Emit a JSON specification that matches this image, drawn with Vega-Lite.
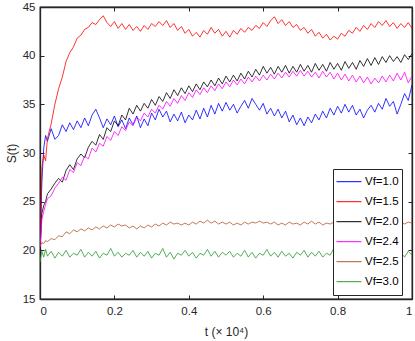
{
  "$schema": "https://vega.github.io/schema/vega-lite/v6.json",
  "width": 372,
  "height": 292,
  "autosize": {"type": "none"},
  "padding": {"left": 40, "top": 7, "right": 3, "bottom": 42},
  "background": "white",
  "config": {
    "view": {"stroke": "#262626", "strokeWidth": 1.3},
    "font": "Liberation Sans",
    "axis": {
      "grid": false,
      "domainColor": "#262626",
      "domainWidth": 1.3,
      "tickColor": "#262626",
      "tickWidth": 1,
      "labelColor": "#262626",
      "titleColor": "#262626",
      "labelFont": "Liberation Sans",
      "titleFont": "Liberation Sans",
      "labelFontSize": 11.5,
      "titleFontSize": 12,
      "titleFontWeight": "normal",
      "tickSize": -4,
      "format": "~g"
    }
  },
  "data": {"values": [
    {"t":0,"v":"1.0","s":20.0},{"t":0.005,"v":"1.0","s":27.0},{"t":0.01,"v":"1.0","s":30.5},{"t":0.015,"v":"1.0","s":31.8},{"t":0.02,"v":"1.0","s":31.2},
    {"t":0.03,"v":"1.0","s":32.5},{"t":0.04,"v":"1.0","s":31.4},{"t":0.05,"v":"1.0","s":31.8},{"t":0.06,"v":"1.0","s":32.9},{"t":0.07,"v":"1.0","s":32.2},{"t":0.08,"v":"1.0","s":33.1},{"t":0.09,"v":"1.0","s":32.4},{"t":0.10,"v":"1.0","s":33.3},{"t":0.11,"v":"1.0","s":32.6},{"t":0.12,"v":"1.0","s":33.6},
    {"t":0.13,"v":"1.0","s":32.8},{"t":0.14,"v":"1.0","s":33.9},{"t":0.15,"v":"1.0","s":34.5},{"t":0.16,"v":"1.0","s":33.6},{"t":0.17,"v":"1.0","s":32.6},{"t":0.18,"v":"1.0","s":33.5},{"t":0.19,"v":"1.0","s":32.9},{"t":0.20,"v":"1.0","s":33.8},{"t":0.21,"v":"1.0","s":32.7},{"t":0.22,"v":"1.0","s":33.4},
    {"t":0.23,"v":"1.0","s":32.5},{"t":0.24,"v":"1.0","s":33.6},{"t":0.25,"v":"1.0","s":32.9},{"t":0.26,"v":"1.0","s":33.8},{"t":0.27,"v":"1.0","s":32.6},{"t":0.28,"v":"1.0","s":33.5},{"t":0.29,"v":"1.0","s":32.8},{"t":0.30,"v":"1.0","s":34.1},{"t":0.31,"v":"1.0","s":33.4},{"t":0.32,"v":"1.0","s":34.5},
    {"t":0.33,"v":"1.0","s":33.7},{"t":0.34,"v":"1.0","s":34.3},{"t":0.35,"v":"1.0","s":33.2},{"t":0.36,"v":"1.0","s":34.0},{"t":0.37,"v":"1.0","s":33.3},{"t":0.38,"v":"1.0","s":34.2},{"t":0.39,"v":"1.0","s":33.1},{"t":0.40,"v":"1.0","s":33.9},{"t":0.41,"v":"1.0","s":33.4},{"t":0.42,"v":"1.0","s":34.4},
    {"t":0.43,"v":"1.0","s":33.5},{"t":0.44,"v":"1.0","s":34.6},{"t":0.45,"v":"1.0","s":33.7},{"t":0.46,"v":"1.0","s":34.9},{"t":0.47,"v":"1.0","s":34.0},{"t":0.48,"v":"1.0","s":35.1},{"t":0.49,"v":"1.0","s":34.3},{"t":0.50,"v":"1.0","s":35.2},{"t":0.51,"v":"1.0","s":34.4},{"t":0.52,"v":"1.0","s":35.0},
    {"t":0.53,"v":"1.0","s":34.1},{"t":0.54,"v":"1.0","s":34.8},{"t":0.55,"v":"1.0","s":35.4},{"t":0.56,"v":"1.0","s":34.6},{"t":0.57,"v":"1.0","s":35.6},{"t":0.58,"v":"1.0","s":35.0},{"t":0.59,"v":"1.0","s":34.4},{"t":0.60,"v":"1.0","s":35.1},{"t":0.61,"v":"1.0","s":34.0},{"t":0.62,"v":"1.0","s":34.6},
    {"t":0.63,"v":"1.0","s":33.8},{"t":0.64,"v":"1.0","s":34.5},{"t":0.65,"v":"1.0","s":33.6},{"t":0.66,"v":"1.0","s":34.3},{"t":0.67,"v":"1.0","s":33.2},{"t":0.68,"v":"1.0","s":33.9},{"t":0.69,"v":"1.0","s":32.9},{"t":0.70,"v":"1.0","s":33.6},{"t":0.71,"v":"1.0","s":32.8},{"t":0.72,"v":"1.0","s":33.7},
    {"t":0.73,"v":"1.0","s":33.1},{"t":0.74,"v":"1.0","s":34.0},{"t":0.75,"v":"1.0","s":33.4},{"t":0.76,"v":"1.0","s":34.3},{"t":0.77,"v":"1.0","s":33.6},{"t":0.78,"v":"1.0","s":34.6},{"t":0.79,"v":"1.0","s":33.9},{"t":0.80,"v":"1.0","s":34.8},{"t":0.81,"v":"1.0","s":34.1},{"t":0.82,"v":"1.0","s":35.0},
    {"t":0.83,"v":"1.0","s":34.2},{"t":0.84,"v":"1.0","s":34.9},{"t":0.85,"v":"1.0","s":33.9},{"t":0.86,"v":"1.0","s":34.5},{"t":0.87,"v":"1.0","s":33.6},{"t":0.88,"v":"1.0","s":34.4},{"t":0.89,"v":"1.0","s":34.9},{"t":0.90,"v":"1.0","s":34.2},{"t":0.91,"v":"1.0","s":35.1},{"t":0.92,"v":"1.0","s":34.5},
    {"t":0.93,"v":"1.0","s":35.6},{"t":0.94,"v":"1.0","s":34.8},{"t":0.95,"v":"1.0","s":35.3},{"t":0.96,"v":"1.0","s":34.0},{"t":0.97,"v":"1.0","s":35.0},{"t":0.98,"v":"1.0","s":36.1},{"t":0.99,"v":"1.0","s":35.4},{"t":1.00,"v":"1.0","s":37.0},

    {"t":0,"v":"1.5","s":20.0},{"t":0.005,"v":"1.5","s":28.5},{"t":0.01,"v":"1.5","s":29.8},{"t":0.015,"v":"1.5","s":29.2},{"t":0.02,"v":"1.5","s":31.5},
    {"t":0.03,"v":"1.5","s":33.0},{"t":0.04,"v":"1.5","s":35.0},{"t":0.05,"v":"1.5","s":36.6},{"t":0.06,"v":"1.5","s":37.8},{"t":0.07,"v":"1.5","s":39.4},{"t":0.08,"v":"1.5","s":40.3},{"t":0.09,"v":"1.5","s":40.9},{"t":0.10,"v":"1.5","s":41.8},{"t":0.11,"v":"1.5","s":42.1},{"t":0.12,"v":"1.5","s":42.7},
    {"t":0.13,"v":"1.5","s":42.9},{"t":0.14,"v":"1.5","s":43.4},{"t":0.15,"v":"1.5","s":43.2},{"t":0.16,"v":"1.5","s":43.7},{"t":0.17,"v":"1.5","s":44.1},{"t":0.18,"v":"1.5","s":43.4},{"t":0.19,"v":"1.5","s":43.0},{"t":0.20,"v":"1.5","s":43.5},{"t":0.21,"v":"1.5","s":42.8},{"t":0.22,"v":"1.5","s":43.3},
    {"t":0.23,"v":"1.5","s":42.7},{"t":0.24,"v":"1.5","s":43.2},{"t":0.25,"v":"1.5","s":42.6},{"t":0.26,"v":"1.5","s":43.0},{"t":0.27,"v":"1.5","s":42.5},{"t":0.28,"v":"1.5","s":43.1},{"t":0.29,"v":"1.5","s":42.7},{"t":0.30,"v":"1.5","s":43.3},{"t":0.31,"v":"1.5","s":43.0},{"t":0.32,"v":"1.5","s":43.5},
    {"t":0.33,"v":"1.5","s":43.1},{"t":0.34,"v":"1.5","s":43.6},{"t":0.35,"v":"1.5","s":42.9},{"t":0.36,"v":"1.5","s":43.3},{"t":0.37,"v":"1.5","s":42.6},{"t":0.38,"v":"1.5","s":43.0},{"t":0.39,"v":"1.5","s":42.3},{"t":0.40,"v":"1.5","s":42.7},{"t":0.41,"v":"1.5","s":42.0},{"t":0.42,"v":"1.5","s":42.4},
    {"t":0.43,"v":"1.5","s":41.9},{"t":0.44,"v":"1.5","s":42.6},{"t":0.45,"v":"1.5","s":42.2},{"t":0.46,"v":"1.5","s":42.9},{"t":0.47,"v":"1.5","s":42.3},{"t":0.48,"v":"1.5","s":42.7},{"t":0.49,"v":"1.5","s":42.0},{"t":0.50,"v":"1.5","s":42.5},{"t":0.51,"v":"1.5","s":41.9},{"t":0.52,"v":"1.5","s":42.6},
    {"t":0.53,"v":"1.5","s":42.2},{"t":0.54,"v":"1.5","s":42.8},{"t":0.55,"v":"1.5","s":42.4},{"t":0.56,"v":"1.5","s":42.9},{"t":0.57,"v":"1.5","s":42.6},{"t":0.58,"v":"1.5","s":43.1},{"t":0.59,"v":"1.5","s":42.8},{"t":0.60,"v":"1.5","s":43.4},{"t":0.61,"v":"1.5","s":43.0},{"t":0.62,"v":"1.5","s":43.6},
    {"t":0.63,"v":"1.5","s":44.0},{"t":0.64,"v":"1.5","s":43.3},{"t":0.65,"v":"1.5","s":43.7},{"t":0.66,"v":"1.5","s":43.1},{"t":0.67,"v":"1.5","s":43.5},{"t":0.68,"v":"1.5","s":42.9},{"t":0.69,"v":"1.5","s":43.2},{"t":0.70,"v":"1.5","s":42.6},{"t":0.71,"v":"1.5","s":42.9},{"t":0.72,"v":"1.5","s":42.3},
    {"t":0.73,"v":"1.5","s":42.7},{"t":0.74,"v":"1.5","s":42.0},{"t":0.75,"v":"1.5","s":42.4},{"t":0.76,"v":"1.5","s":41.8},{"t":0.77,"v":"1.5","s":42.2},{"t":0.78,"v":"1.5","s":41.6},{"t":0.79,"v":"1.5","s":42.0},{"t":0.80,"v":"1.5","s":41.7},{"t":0.81,"v":"1.5","s":42.3},{"t":0.82,"v":"1.5","s":42.0},
    {"t":0.83,"v":"1.5","s":42.6},{"t":0.84,"v":"1.5","s":42.3},{"t":0.85,"v":"1.5","s":42.9},{"t":0.86,"v":"1.5","s":42.5},{"t":0.87,"v":"1.5","s":43.1},{"t":0.88,"v":"1.5","s":42.7},{"t":0.89,"v":"1.5","s":43.3},{"t":0.90,"v":"1.5","s":42.9},{"t":0.91,"v":"1.5","s":43.5},{"t":0.92,"v":"1.5","s":43.1},
    {"t":0.93,"v":"1.5","s":43.6},{"t":0.94,"v":"1.5","s":43.0},{"t":0.95,"v":"1.5","s":43.4},{"t":0.96,"v":"1.5","s":42.8},{"t":0.97,"v":"1.5","s":43.3},{"t":0.98,"v":"1.5","s":42.9},{"t":0.99,"v":"1.5","s":43.4},{"t":1.00,"v":"1.5","s":42.8},

    {"t":0,"v":"2.0","s":20.0},{"t":0.005,"v":"2.0","s":23.8},{"t":0.01,"v":"2.0","s":24.6},{"t":0.015,"v":"2.0","s":25.0},{"t":0.02,"v":"2.0","s":25.8},
    {"t":0.03,"v":"2.0","s":26.3},{"t":0.04,"v":"2.0","s":26.9},{"t":0.05,"v":"2.0","s":27.4},{"t":0.06,"v":"2.0","s":27.0},{"t":0.07,"v":"2.0","s":28.2},{"t":0.08,"v":"2.0","s":28.8},{"t":0.09,"v":"2.0","s":28.3},{"t":0.10,"v":"2.0","s":29.4},{"t":0.11,"v":"2.0","s":29.9},{"t":0.12,"v":"2.0","s":29.5},
    {"t":0.13,"v":"2.0","s":30.6},{"t":0.14,"v":"2.0","s":31.2},{"t":0.15,"v":"2.0","s":30.8},{"t":0.16,"v":"2.0","s":31.9},{"t":0.17,"v":"2.0","s":31.4},{"t":0.18,"v":"2.0","s":32.6},{"t":0.19,"v":"2.0","s":32.2},{"t":0.20,"v":"2.0","s":33.3},{"t":0.21,"v":"2.0","s":32.8},{"t":0.22,"v":"2.0","s":33.9},
    {"t":0.23,"v":"2.0","s":33.4},{"t":0.24,"v":"2.0","s":34.6},{"t":0.25,"v":"2.0","s":34.0},{"t":0.26,"v":"2.0","s":34.9},{"t":0.27,"v":"2.0","s":34.3},{"t":0.28,"v":"2.0","s":35.1},{"t":0.29,"v":"2.0","s":34.6},{"t":0.30,"v":"2.0","s":35.5},{"t":0.31,"v":"2.0","s":34.9},{"t":0.32,"v":"2.0","s":35.8},
    {"t":0.33,"v":"2.0","s":35.3},{"t":0.34,"v":"2.0","s":36.2},{"t":0.35,"v":"2.0","s":35.6},{"t":0.36,"v":"2.0","s":36.5},{"t":0.37,"v":"2.0","s":35.9},{"t":0.38,"v":"2.0","s":36.7},{"t":0.39,"v":"2.0","s":36.1},{"t":0.40,"v":"2.0","s":36.9},{"t":0.41,"v":"2.0","s":36.3},{"t":0.42,"v":"2.0","s":37.1},
    {"t":0.43,"v":"2.0","s":36.5},{"t":0.44,"v":"2.0","s":37.3},{"t":0.45,"v":"2.0","s":36.8},{"t":0.46,"v":"2.0","s":37.5},{"t":0.47,"v":"2.0","s":36.9},{"t":0.48,"v":"2.0","s":37.7},{"t":0.49,"v":"2.0","s":37.1},{"t":0.50,"v":"2.0","s":37.9},{"t":0.51,"v":"2.0","s":37.3},{"t":0.52,"v":"2.0","s":38.0},
    {"t":0.53,"v":"2.0","s":37.4},{"t":0.54,"v":"2.0","s":38.2},{"t":0.55,"v":"2.0","s":37.6},{"t":0.56,"v":"2.0","s":38.4},{"t":0.57,"v":"2.0","s":37.8},{"t":0.58,"v":"2.0","s":38.6},{"t":0.59,"v":"2.0","s":38.0},{"t":0.60,"v":"2.0","s":38.9},{"t":0.61,"v":"2.0","s":38.2},{"t":0.62,"v":"2.0","s":38.8},
    {"t":0.63,"v":"2.0","s":38.1},{"t":0.64,"v":"2.0","s":38.9},{"t":0.65,"v":"2.0","s":38.3},{"t":0.66,"v":"2.0","s":39.0},{"t":0.67,"v":"2.0","s":38.2},{"t":0.68,"v":"2.0","s":38.9},{"t":0.69,"v":"2.0","s":38.3},{"t":0.70,"v":"2.0","s":39.1},{"t":0.71,"v":"2.0","s":38.4},{"t":0.72,"v":"2.0","s":39.0},
    {"t":0.73,"v":"2.0","s":38.3},{"t":0.74,"v":"2.0","s":39.2},{"t":0.75,"v":"2.0","s":38.5},{"t":0.76,"v":"2.0","s":39.1},{"t":0.77,"v":"2.0","s":38.4},{"t":0.78,"v":"2.0","s":39.3},{"t":0.79,"v":"2.0","s":38.6},{"t":0.80,"v":"2.0","s":39.2},{"t":0.81,"v":"2.0","s":38.5},{"t":0.82,"v":"2.0","s":39.4},
    {"t":0.83,"v":"2.0","s":38.7},{"t":0.84,"v":"2.0","s":39.3},{"t":0.85,"v":"2.0","s":38.6},{"t":0.86,"v":"2.0","s":39.5},{"t":0.87,"v":"2.0","s":38.9},{"t":0.88,"v":"2.0","s":39.7},{"t":0.89,"v":"2.0","s":39.0},{"t":0.90,"v":"2.0","s":39.8},{"t":0.91,"v":"2.0","s":39.1},{"t":0.92,"v":"2.0","s":39.9},
    {"t":0.93,"v":"2.0","s":39.3},{"t":0.94,"v":"2.0","s":40.0},{"t":0.95,"v":"2.0","s":39.4},{"t":0.96,"v":"2.0","s":39.9},{"t":0.97,"v":"2.0","s":39.3},{"t":0.98,"v":"2.0","s":40.1},{"t":0.99,"v":"2.0","s":39.6},{"t":1.00,"v":"2.0","s":40.2},

    {"t":0,"v":"2.4","s":20.3},{"t":0.005,"v":"2.4","s":23.2},{"t":0.01,"v":"2.4","s":24.0},{"t":0.015,"v":"2.4","s":24.7},{"t":0.02,"v":"2.4","s":25.3},
    {"t":0.03,"v":"2.4","s":25.6},{"t":0.04,"v":"2.4","s":26.4},{"t":0.05,"v":"2.4","s":26.9},{"t":0.06,"v":"2.4","s":27.5},{"t":0.07,"v":"2.4","s":27.2},{"t":0.08,"v":"2.4","s":28.3},{"t":0.09,"v":"2.4","s":28.0},{"t":0.10,"v":"2.4","s":29.0},{"t":0.11,"v":"2.4","s":28.7},{"t":0.12,"v":"2.4","s":29.7},
    {"t":0.13,"v":"2.4","s":29.4},{"t":0.14,"v":"2.4","s":30.5},{"t":0.15,"v":"2.4","s":30.1},{"t":0.16,"v":"2.4","s":31.0},{"t":0.17,"v":"2.4","s":30.7},{"t":0.18,"v":"2.4","s":31.7},{"t":0.19,"v":"2.4","s":31.3},{"t":0.20,"v":"2.4","s":32.2},{"t":0.21,"v":"2.4","s":31.8},{"t":0.22,"v":"2.4","s":32.7},
    {"t":0.23,"v":"2.4","s":32.3},{"t":0.24,"v":"2.4","s":33.2},{"t":0.25,"v":"2.4","s":32.8},{"t":0.26,"v":"2.4","s":33.7},{"t":0.27,"v":"2.4","s":33.3},{"t":0.28,"v":"2.4","s":34.1},{"t":0.29,"v":"2.4","s":33.7},{"t":0.30,"v":"2.4","s":34.5},{"t":0.31,"v":"2.4","s":34.1},{"t":0.32,"v":"2.4","s":34.9},
    {"t":0.33,"v":"2.4","s":34.5},{"t":0.34,"v":"2.4","s":35.3},{"t":0.35,"v":"2.4","s":34.8},{"t":0.36,"v":"2.4","s":35.6},{"t":0.37,"v":"2.4","s":35.1},{"t":0.38,"v":"2.4","s":35.9},{"t":0.39,"v":"2.4","s":35.4},{"t":0.40,"v":"2.4","s":36.2},{"t":0.41,"v":"2.4","s":35.7},{"t":0.42,"v":"2.4","s":36.5},
    {"t":0.43,"v":"2.4","s":36.0},{"t":0.44,"v":"2.4","s":36.7},{"t":0.45,"v":"2.4","s":36.2},{"t":0.46,"v":"2.4","s":36.9},{"t":0.47,"v":"2.4","s":36.4},{"t":0.48,"v":"2.4","s":37.1},{"t":0.49,"v":"2.4","s":36.6},{"t":0.50,"v":"2.4","s":37.3},{"t":0.51,"v":"2.4","s":36.8},{"t":0.52,"v":"2.4","s":37.5},
    {"t":0.53,"v":"2.4","s":37.0},{"t":0.54,"v":"2.4","s":37.6},{"t":0.55,"v":"2.4","s":37.1},{"t":0.56,"v":"2.4","s":37.8},{"t":0.57,"v":"2.4","s":37.3},{"t":0.58,"v":"2.4","s":37.9},{"t":0.59,"v":"2.4","s":37.4},{"t":0.60,"v":"2.4","s":38.0},{"t":0.61,"v":"2.4","s":37.5},{"t":0.62,"v":"2.4","s":38.1},
    {"t":0.63,"v":"2.4","s":37.6},{"t":0.64,"v":"2.4","s":38.2},{"t":0.65,"v":"2.4","s":37.7},{"t":0.66,"v":"2.4","s":38.3},{"t":0.67,"v":"2.4","s":37.8},{"t":0.68,"v":"2.4","s":38.4},{"t":0.69,"v":"2.4","s":37.9},{"t":0.70,"v":"2.4","s":38.5},{"t":0.71,"v":"2.4","s":37.9},{"t":0.72,"v":"2.4","s":38.4},
    {"t":0.73,"v":"2.4","s":37.8},{"t":0.74,"v":"2.4","s":38.3},{"t":0.75,"v":"2.4","s":37.7},{"t":0.76,"v":"2.4","s":38.4},{"t":0.77,"v":"2.4","s":37.8},{"t":0.78,"v":"2.4","s":38.3},{"t":0.79,"v":"2.4","s":37.6},{"t":0.80,"v":"2.4","s":38.2},{"t":0.81,"v":"2.4","s":37.5},{"t":0.82,"v":"2.4","s":38.1},
    {"t":0.83,"v":"2.4","s":37.4},{"t":0.84,"v":"2.4","s":38.0},{"t":0.85,"v":"2.4","s":37.3},{"t":0.86,"v":"2.4","s":37.9},{"t":0.87,"v":"2.4","s":37.2},{"t":0.88,"v":"2.4","s":37.8},{"t":0.89,"v":"2.4","s":37.1},{"t":0.90,"v":"2.4","s":37.7},{"t":0.91,"v":"2.4","s":37.2},{"t":0.92,"v":"2.4","s":37.9},
    {"t":0.93,"v":"2.4","s":37.3},{"t":0.94,"v":"2.4","s":38.0},{"t":0.95,"v":"2.4","s":37.4},{"t":0.96,"v":"2.4","s":38.2},{"t":0.97,"v":"2.4","s":37.5},{"t":0.98,"v":"2.4","s":38.3},{"t":0.99,"v":"2.4","s":37.2},{"t":1.00,"v":"2.4","s":37.9},

    {"t":0,"v":"2.5","s":20.4},{"t":0.005,"v":"2.5","s":20.8},{"t":0.01,"v":"2.5","s":20.7},{"t":0.015,"v":"2.5","s":21.0},{"t":0.02,"v":"2.5","s":20.9},
    {"t":0.03,"v":"2.5","s":21.2},{"t":0.04,"v":"2.5","s":21.1},{"t":0.05,"v":"2.5","s":21.5},{"t":0.06,"v":"2.5","s":21.4},{"t":0.07,"v":"2.5","s":21.9},{"t":0.08,"v":"2.5","s":21.7},{"t":0.09,"v":"2.5","s":22.1},{"t":0.10,"v":"2.5","s":21.9},{"t":0.11,"v":"2.5","s":22.2},{"t":0.12,"v":"2.5","s":22.0},
    {"t":0.13,"v":"2.5","s":22.3},{"t":0.14,"v":"2.5","s":22.1},{"t":0.15,"v":"2.5","s":22.4},{"t":0.16,"v":"2.5","s":22.2},{"t":0.17,"v":"2.5","s":22.5},{"t":0.18,"v":"2.5","s":22.3},{"t":0.19,"v":"2.5","s":22.6},{"t":0.20,"v":"2.5","s":22.4},{"t":0.21,"v":"2.5","s":22.7},{"t":0.22,"v":"2.5","s":22.5},
    {"t":0.23,"v":"2.5","s":22.6},{"t":0.24,"v":"2.5","s":22.3},{"t":0.25,"v":"2.5","s":22.5},{"t":0.26,"v":"2.5","s":22.2},{"t":0.27,"v":"2.5","s":22.5},{"t":0.28,"v":"2.5","s":22.3},{"t":0.29,"v":"2.5","s":22.6},{"t":0.30,"v":"2.5","s":22.4},{"t":0.31,"v":"2.5","s":22.7},{"t":0.32,"v":"2.5","s":22.5},
    {"t":0.33,"v":"2.5","s":22.8},{"t":0.34,"v":"2.5","s":22.6},{"t":0.35,"v":"2.5","s":22.9},{"t":0.36,"v":"2.5","s":22.7},{"t":0.37,"v":"2.5","s":22.8},{"t":0.38,"v":"2.5","s":22.6},{"t":0.39,"v":"2.5","s":22.8},{"t":0.40,"v":"2.5","s":22.6},{"t":0.41,"v":"2.5","s":22.9},{"t":0.42,"v":"2.5","s":22.7},
    {"t":0.43,"v":"2.5","s":23.0},{"t":0.44,"v":"2.5","s":22.8},{"t":0.45,"v":"2.5","s":23.1},{"t":0.46,"v":"2.5","s":22.8},{"t":0.47,"v":"2.5","s":23.0},{"t":0.48,"v":"2.5","s":22.7},{"t":0.49,"v":"2.5","s":22.9},{"t":0.50,"v":"2.5","s":22.7},{"t":0.51,"v":"2.5","s":22.9},{"t":0.52,"v":"2.5","s":22.6},
    {"t":0.53,"v":"2.5","s":22.8},{"t":0.54,"v":"2.5","s":22.6},{"t":0.55,"v":"2.5","s":22.9},{"t":0.56,"v":"2.5","s":22.7},{"t":0.57,"v":"2.5","s":22.9},{"t":0.58,"v":"2.5","s":22.8},{"t":0.59,"v":"2.5","s":23.0},{"t":0.60,"v":"2.5","s":22.8},{"t":0.61,"v":"2.5","s":22.9},{"t":0.62,"v":"2.5","s":22.7},
    {"t":0.63,"v":"2.5","s":22.9},{"t":0.64,"v":"2.5","s":22.6},{"t":0.65,"v":"2.5","s":22.8},{"t":0.66,"v":"2.5","s":22.6},{"t":0.67,"v":"2.5","s":22.9},{"t":0.68,"v":"2.5","s":22.7},{"t":0.69,"v":"2.5","s":22.8},{"t":0.70,"v":"2.5","s":22.6},{"t":0.71,"v":"2.5","s":22.9},{"t":0.72,"v":"2.5","s":22.7},
    {"t":0.73,"v":"2.5","s":23.0},{"t":0.74,"v":"2.5","s":22.7},{"t":0.75,"v":"2.5","s":22.9},{"t":0.76,"v":"2.5","s":22.6},{"t":0.77,"v":"2.5","s":22.8},{"t":0.78,"v":"2.5","s":22.7},{"t":0.79,"v":"2.5","s":22.9},{"t":0.80,"v":"2.5","s":22.6},{"t":0.81,"v":"2.5","s":22.8},{"t":0.82,"v":"2.5","s":22.6},
    {"t":0.83,"v":"2.5","s":22.9},{"t":0.84,"v":"2.5","s":22.7},{"t":0.85,"v":"2.5","s":22.8},{"t":0.86,"v":"2.5","s":22.6},{"t":0.87,"v":"2.5","s":22.9},{"t":0.88,"v":"2.5","s":22.7},{"t":0.89,"v":"2.5","s":22.9},{"t":0.90,"v":"2.5","s":22.6},{"t":0.91,"v":"2.5","s":22.8},{"t":0.92,"v":"2.5","s":22.6},
    {"t":0.93,"v":"2.5","s":22.9},{"t":0.94,"v":"2.5","s":22.7},{"t":0.95,"v":"2.5","s":22.8},{"t":0.96,"v":"2.5","s":22.6},{"t":0.97,"v":"2.5","s":22.9},{"t":0.98,"v":"2.5","s":22.7},{"t":0.99,"v":"2.5","s":22.9},{"t":1.00,"v":"2.5","s":22.8},

    {"t":0,"v":"3.0","s":18.8},{"t":0.005,"v":"3.0","s":19.9},{"t":0.01,"v":"3.0","s":19.3},{"t":0.015,"v":"3.0","s":20.1},{"t":0.02,"v":"3.0","s":19.4},
    {"t":0.03,"v":"3.0","s":19.9},{"t":0.04,"v":"3.0","s":19.2},{"t":0.05,"v":"3.0","s":19.8},{"t":0.06,"v":"3.0","s":19.4},{"t":0.07,"v":"3.0","s":20.0},{"t":0.08,"v":"3.0","s":19.3},{"t":0.09,"v":"3.0","s":19.7},{"t":0.10,"v":"3.0","s":19.5},{"t":0.11,"v":"3.0","s":20.1},{"t":0.12,"v":"3.0","s":19.3},
    {"t":0.13,"v":"3.0","s":19.8},{"t":0.14,"v":"3.0","s":19.4},{"t":0.15,"v":"3.0","s":19.9},{"t":0.16,"v":"3.0","s":19.2},{"t":0.17,"v":"3.0","s":19.7},{"t":0.18,"v":"3.0","s":19.5},{"t":0.19,"v":"3.0","s":20.2},{"t":0.20,"v":"3.0","s":19.4},{"t":0.21,"v":"3.0","s":19.8},{"t":0.22,"v":"3.0","s":19.3},
    {"t":0.23,"v":"3.0","s":19.7},{"t":0.24,"v":"3.0","s":19.5},{"t":0.25,"v":"3.0","s":20.0},{"t":0.26,"v":"3.0","s":19.3},{"t":0.27,"v":"3.0","s":19.8},{"t":0.28,"v":"3.0","s":19.4},{"t":0.29,"v":"3.0","s":19.9},{"t":0.30,"v":"3.0","s":19.2},{"t":0.31,"v":"3.0","s":19.7},{"t":0.32,"v":"3.0","s":19.5},
    {"t":0.33,"v":"3.0","s":20.2},{"t":0.34,"v":"3.0","s":19.3},{"t":0.35,"v":"3.0","s":19.8},{"t":0.36,"v":"3.0","s":19.1},{"t":0.37,"v":"3.0","s":19.7},{"t":0.38,"v":"3.0","s":19.5},{"t":0.39,"v":"3.0","s":20.0},{"t":0.40,"v":"3.0","s":19.4},{"t":0.41,"v":"3.0","s":19.8},{"t":0.42,"v":"3.0","s":19.2},
    {"t":0.43,"v":"3.0","s":19.7},{"t":0.44,"v":"3.0","s":19.5},{"t":0.45,"v":"3.0","s":20.1},{"t":0.46,"v":"3.0","s":19.4},{"t":0.47,"v":"3.0","s":19.9},{"t":0.48,"v":"3.0","s":19.3},{"t":0.49,"v":"3.0","s":19.8},{"t":0.50,"v":"3.0","s":19.5},{"t":0.51,"v":"3.0","s":19.9},{"t":0.52,"v":"3.0","s":19.3},
    {"t":0.53,"v":"3.0","s":19.7},{"t":0.54,"v":"3.0","s":19.4},{"t":0.55,"v":"3.0","s":20.0},{"t":0.56,"v":"3.0","s":19.3},{"t":0.57,"v":"3.0","s":19.8},{"t":0.58,"v":"3.0","s":19.2},{"t":0.59,"v":"3.0","s":19.7},{"t":0.60,"v":"3.0","s":19.5},{"t":0.61,"v":"3.0","s":20.1},{"t":0.62,"v":"3.0","s":19.4},
    {"t":0.63,"v":"3.0","s":19.8},{"t":0.64,"v":"3.0","s":19.3},{"t":0.65,"v":"3.0","s":19.9},{"t":0.66,"v":"3.0","s":19.4},{"t":0.67,"v":"3.0","s":19.7},{"t":0.68,"v":"3.0","s":19.2},{"t":0.69,"v":"3.0","s":19.8},{"t":0.70,"v":"3.0","s":19.5},{"t":0.71,"v":"3.0","s":20.0},{"t":0.72,"v":"3.0","s":19.3},
    {"t":0.73,"v":"3.0","s":19.8},{"t":0.74,"v":"3.0","s":19.4},{"t":0.75,"v":"3.0","s":19.9},{"t":0.76,"v":"3.0","s":19.3},{"t":0.77,"v":"3.0","s":19.7},{"t":0.78,"v":"3.0","s":19.5},{"t":0.79,"v":"3.0","s":20.2},{"t":0.80,"v":"3.0","s":19.4},{"t":0.81,"v":"3.0","s":19.8},{"t":0.82,"v":"3.0","s":19.3},
    {"t":0.83,"v":"3.0","s":19.9},{"t":0.84,"v":"3.0","s":19.2},{"t":0.85,"v":"3.0","s":19.7},{"t":0.86,"v":"3.0","s":19.5},{"t":0.87,"v":"3.0","s":20.0},{"t":0.88,"v":"3.0","s":19.3},{"t":0.89,"v":"3.0","s":19.8},{"t":0.90,"v":"3.0","s":19.4},{"t":0.91,"v":"3.0","s":19.9},{"t":0.92,"v":"3.0","s":19.3},
    {"t":0.93,"v":"3.0","s":19.7},{"t":0.94,"v":"3.0","s":19.5},{"t":0.95,"v":"3.0","s":20.1},{"t":0.96,"v":"3.0","s":19.4},{"t":0.97,"v":"3.0","s":19.8},{"t":0.98,"v":"3.0","s":19.3},{"t":0.99,"v":"3.0","s":19.9},{"t":1.00,"v":"3.0","s":19.5}
  ]},
  "layer": [
    {
      "mark": {"type": "line", "strokeWidth": 0.8, "clip": true},
      "encoding": {
        "x": {"field": "t", "type": "quantitative",
              "scale": {"domain": [0, 1], "nice": false},
              "axis": {"orient": "bottom", "values": [0, 0.2, 0.4, 0.6, 0.8, 1], "title": "t (× 10⁴)", "labelPadding": 10, "titlePadding": 10}},
        "y": {"field": "s", "type": "quantitative",
              "scale": {"domain": [15, 45], "nice": false, "zero": false},
              "axis": {"orient": "left", "values": [15, 20, 25, 30, 35, 40, 45], "title": "S(t)", "labelPadding": 9, "titlePadding": 4}},
        "color": {"field": "v", "type": "nominal",
                  "scale": {"domain": ["1.0", "1.5", "2.0", "2.4", "2.5", "3.0"],
                            "range": ["#0000ff", "#ff0000", "#000000", "#ff00ff", "#b0582c", "#2a9a2a"]},
                  "legend": {"orient": "none", "legendX": 293, "legendY": 162, "title": null,
                             "labelExpr": "'Vf=' + datum.label",
                             "symbolType": "stroke", "symbolSize": 625, "symbolStrokeWidth": 1,
                             "clipHeight": 19.4,
                             "labelFontSize": 11.5, "labelColor": "#000000", "labelFont": "Liberation Sans",
                             "labelOffset": 3,
                             "rowPadding": 0, "padding": 3,
                             "strokeColor": "#262626", "fillColor": "white"}}
      }
    },
    {
      "mark": {"type": "point", "opacity": 0},
      "encoding": {
        "x": {"field": "t", "type": "quantitative",
              "axis": {"orient": "top", "values": [0, 0.2, 0.4, 0.6, 0.8, 1], "labels": false, "title": null, "ticks": true}},
        "y": {"field": "s", "type": "quantitative",
              "axis": {"orient": "right", "values": [15, 20, 25, 30, 35, 40, 45], "labels": false, "title": null, "ticks": true}}
      }
    }
  ]
}
